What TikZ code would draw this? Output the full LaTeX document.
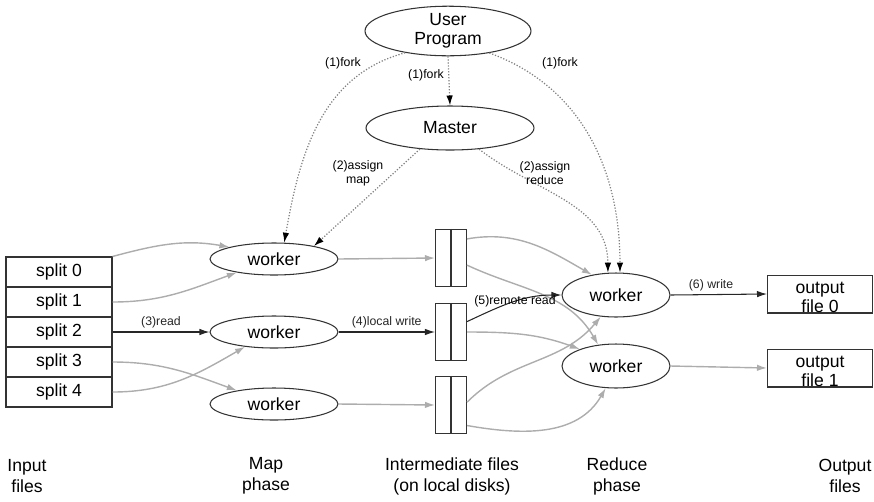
\documentclass[tikz,border=0pt]{standalone}
\usepackage{fontspec}
\setmainfont{Liberation Sans}
\usetikzlibrary{shapes.geometric,arrows.meta}
\tikzset{
  proc/.style={draw=black!80, ellipse, inner sep=0pt, line width=0.6pt},
  splitbox/.style={draw=black!80, minimum width=2.12cm, minimum height=0.6cm, inner sep=0pt, line width=0.6pt},
  ifile/.style={draw=black!80, minimum width=0.62cm, minimum height=1.14cm, inner sep=0pt, line width=0.6pt},
  ofile/.style={draw=black!80, minimum width=2.1cm, minimum height=0.72cm, inner sep=0pt, align=center, line width=0.6pt, font=\fontsize{10}{11}\selectfont},
  flow/.style={-{Latex[length=2mm,width=1.3mm]}, black!85, line width=0.6pt},
  feed/.style={-{Latex[length=2mm,width=1.3mm]}, black!32, line width=0.8pt},
  ctrl/.style={-{Latex[length=2mm,width=1.3mm,color=black]}, black!50, densely dotted, line width=0.7pt},
  tag/.style={font=\fontsize{7}{8}\selectfont, align=center, inner sep=1pt},
  phase/.style={font=\fontsize{10}{12}\selectfont, align=center}
}
\begin{document}
\begin{tikzpicture}[x=0.02cm, y=-0.02cm]
  \useasboundingbox (0,0) rectangle (874,501);
  % --- user program and master ---
  \node[proc, minimum width=3.32cm, minimum height=0.92cm, align=center, font=\fontsize{10}{11}\selectfont] (up) at (448,31) {User\\Program};
  \node[proc, minimum width=3.36cm, minimum height=0.88cm] (ms) at (450,128) {Master};
  % --- input splits ---
  \foreach \i in {0,...,4}
    \node[splitbox] (s\i) at (59,{272+30*\i}) {split \i};
  % --- map workers ---
  \foreach \i/\y in {1/259,2/332,3/404}
    \node[proc, minimum width=2.56cm, minimum height=0.64cm] (m\i) at (274,\y) {worker};
  % --- intermediate files ---
  \foreach \i/\y in {1/258,2/332,3/405} {
    \node[ifile] (f\i) at (451,\y) {};
    \draw[black!80, line width=0.6pt] (f\i.north) -- (f\i.south);
  }
  % --- reduce workers ---
  \foreach \i/\y in {1/295,2/366}
    \node[proc, minimum width=2.16cm, minimum height=0.88cm] (r\i) at (616,\y) {worker};
  % --- output files ---
  \node[ofile] (o1) at (820,294) {\rule{0pt}{10.5pt}output\\file 0};
  \node[ofile] (o2) at (820,368) {\rule{0pt}{10.5pt}output\\file 1};
  % --- control (dotted) ---
  \draw[ctrl] (up.207) to[out=195,in=80] (m1.58);
  \draw[ctrl] (up.south) -- (ms.north);
  \draw[ctrl] (up.332) to[out=-20,in=90] (r1.80);
  \draw[ctrl] (ms.215) -- (m1.18);
  \draw[ctrl] (ms.324) to[out=-38,in=90] (r1.110);
  \node[tag] (t1) at (343,63) {(1)fork};
  \node[tag] (t2) at (426,75) {(1)fork};
  \node[tag] (t3) at (560,63) {(1)fork};
  \node[tag] (t4) at (358,173) {(2)assign\\map};
  \node[tag] (t5) at (545,173) {(2)assign\\reduce};
  % --- map phase ---
  \draw[feed] (s0.north east) to[out=15,in=170] (m1.165);
  \draw[feed] (s1.east) to[out=0,in=200] (m1.200);
  \draw[flow] (s2.east) -- node[tag, above=1pt] (t6) {(3)read} (m2.west);
  \draw[feed] (s3.east) to[out=0,in=160] (m3.160);
  \draw[feed] (s4.east) to[out=0,in=210] (m2.207);
  \draw[feed] (m1.east) -- (f1.west);
  \draw[flow] (m2.east) -- node[tag, above=1pt] (t7) {(4)local write} (f2.west);
  \draw[feed] (m3.east) -- (f3.west);
  % --- reduce phase ---
  \draw[feed] (f1.50) to[out=10,in=150] (r1.140);
  \draw[feed] (f1.336) to[out=-25,in=120] (r2.130);
  \draw[feed] (f2.east) to[out=0,in=160] (r2.155);
  \draw[feed] (f3.10) to[out=45,in=230] (r1.235);
  \draw[feed] (f3.308) to[out=-10,in=240] (r2.245);
  \draw[flow] (f2.33) to[out=25,in=180] (r1.west);
  \node[tag] (t8) at (515,301) {(5)remote read};
  \draw[flow] (r1.east) -- node[tag, above=1pt, pos=0.42] (t9) {(6) write} (o1.west);
  \draw[feed] (r2.east) -- (o2.west);
  % --- phase captions ---
  \node[phase] (p1) at (27,476) {Input\\files};
  \node[phase] (p2) at (266,476) {Map\\phase};
  \node[phase] (p3) at (452,476) {Intermediate files\\(on local disks)};
  \node[phase] (p4) at (617,476) {Reduce\\phase};
  \node[phase] (p5) at (845,476) {Output\\files};
\end{tikzpicture}
\end{document}
